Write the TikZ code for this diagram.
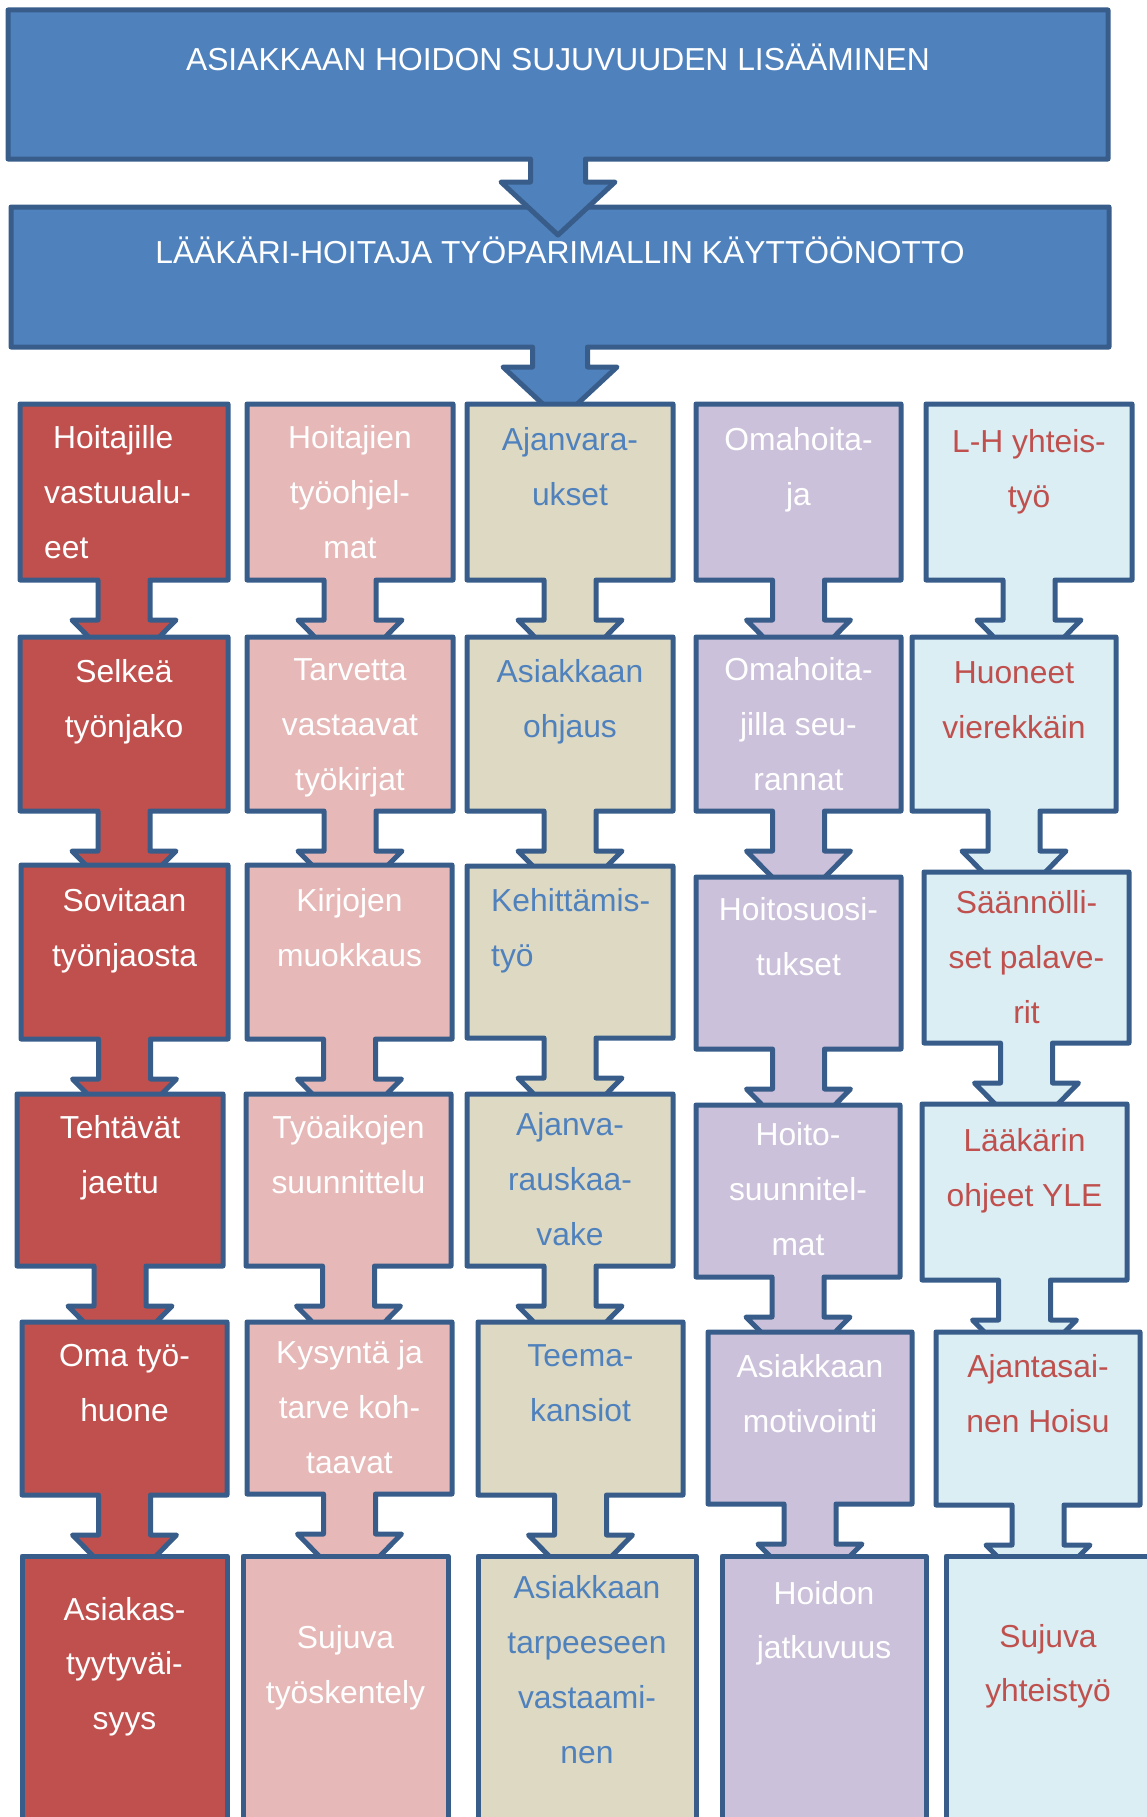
\documentclass[tikz,border=0pt]{standalone}
\usepackage{fontspec}
\setmainfont{Liberation Sans}

\definecolor{edgeblue}{HTML}{385D8A}
\definecolor{topblue}{HTML}{4F81BD}
\definecolor{brickred}{HTML}{C0504D}
\definecolor{rosepink}{HTML}{E6B9B8}
\definecolor{sandtan}{HTML}{DDD9C3}
\definecolor{lilac}{HTML}{CCC1DA}
\definecolor{paleaqua}{HTML}{DBEEF4}

% Box with a downward arrow hanging from its bottom edge.
% #1 x1  #2 y1  #3 x2  #4 y2  #5 fill  #6 stem half width
% #7 head half width  #8 stem length  #9 head length
\newcommand\calloutshape[9]{%
  \pgfmathsetmacro\coX{(#1+#3)/2}%
  \pgfmathsetmacro\coS{#4+#8}%
  \pgfmathsetmacro\coT{#4+#8+#9}%
  \draw[outline, fill=#5] (#1,#2) -- (#3,#2) -- (#3,#4)
    -- (\coX+#6,#4) -- (\coX+#6,\coS) -- (\coX+#7,\coS) -- (\coX,\coT)
    -- (\coX-#7,\coS) -- (\coX-#6,\coS) -- (\coX-#6,#4) -- (#1,#4) -- cycle;}
% Column box with the standard arrow
\newcommand\colbox[5]{\calloutshape{#1}{#2}{#3}{#4}{#5}{26}{52}{40}{53}}
% Final box of a column, running off the bottom edge
\newcommand\tailbox[5]{\draw[outline, fill=#5] (#1,#2) rectangle (#3,#4);}

% Text of a box: first baseline at the given point, lines centred
\newcommand\lbl[6][55]{\node[lbltext, text=#5] (#2) at (#3,#4)
  {\fontsize{31.8}{#1}\selectfont\begin{tabular}[t]{@{}c@{}}#6\end{tabular}};}
% Same, lines flush left
\newcommand\lbll[6][55]{\node[lbltext, anchor=base west, text=#5] (#2) at (#3,#4)
  {\fontsize{31.8}{#1}\selectfont\begin{tabular}[t]{@{}l@{}}#6\end{tabular}};}

\begin{document}
\begin{tikzpicture}[x=1pt, y=-1pt,
  outline/.style={draw=edgeblue, line width=5pt, line join=round},
  lbltext/.style={anchor=base, inner sep=0pt}]
\useasboundingbox (0,0) rectangle (1147,1817);
\clip (0,0) rectangle (1147,1817);

% ---- headline boxes ----
\calloutshape{11}{207}{1109}{347}{topblue}{27.5}{57}{20}{53}
\calloutshape{8}{10}{1108}{159}{topblue}{27.5}{57}{23}{53}
\lbl{goal}{558}{71}{white}{ASIAKKAAN HOIDON SUJUVUUDEN LISÄÄMINEN}
\lbl{model}{560}{263}{white}{LÄÄKÄRI-HOITAJA TYÖPARIMALLIN KÄYTTÖÖNOTTO}

% ---- column 1 ----
\colbox{20}{404}{228}{580}{brickred}
\colbox{20}{637}{228}{811}{brickred}
\colbox{21}{865}{228}{1039}{brickred}
\colbox{17}{1094}{223}{1266}{brickred}
\colbox{22}{1322}{227}{1495}{brickred}
\tailbox{22}{1556}{227}{1900}{brickred}
\lbll{c1r1}{44}{448}{white}{\hspace*{9pt}Hoitajille\\vastuualu-\\eet}
\lbl{c1r2}{124}{682}{white}{Selkeä\\työnjako}
\lbl{c1r3}{124.5}{911}{white}{Sovitaan\\työnjaosta}
\lbl{c1r4}{120}{1138}{white}{Tehtävät\\jaettu}
\lbl{c1r5}{124.5}{1366}{white}{Oma työ-\\huone}
\lbl[54.5]{c1r6}{124.5}{1620}{white}{Asiakas-\\tyytyväi-\\syys}

% ---- column 2 ----
\colbox{247}{404}{453}{580}{rosepink}
\colbox{247}{637}{453}{811}{rosepink}
\colbox{247}{865}{452}{1039}{rosepink}
\colbox{246}{1094}{451}{1266}{rosepink}
\colbox{247}{1322}{452}{1494}{rosepink}
\tailbox{243}{1556}{448}{1900}{rosepink}
\lbl{c2r1}{350}{448}{white}{Hoitajien\\työohjel-\\mat}
\lbl{c2r2}{350}{680}{white}{Tarvetta\\vastaavat\\työkirjat}
\lbl{c2r3}{349.5}{911}{white}{Kirjojen\\muokkaus}
\lbl{c2r4}{348.5}{1138}{white}{Työaikojen\\suunnittelu}
\lbl{c2r5}{349.5}{1363}{white}{Kysyntä ja\\tarve koh-\\taavat}
\lbl{c2r6}{345.5}{1648}{white}{Sujuva\\työskentely}

% ---- column 3 ----
\colbox{467}{404}{673}{580}{sandtan}
\colbox{467}{637}{673}{811}{sandtan}
\colbox{467}{866}{673}{1038}{sandtan}
\colbox{467}{1094}{673}{1266}{sandtan}
\colbox{478}{1322}{683}{1495}{sandtan}
\tailbox{478}{1556}{696}{1900}{sandtan}
\lbl{c3r1}{570}{450}{topblue}{Ajanvara-\\ukset}
\lbl{c3r2}{570}{682}{topblue}{Asiakkaan\\ohjaus}
\lbll{c3r3}{491}{911}{topblue}{Kehittämis-\\työ}
\lbl{c3r4}{570}{1135}{topblue}{Ajanva-\\rauskaa-\\vake}
\lbl{c3r5}{580.5}{1366}{topblue}{Teema-\\kansiot}
\lbl{c3r6}{587}{1598.5}{topblue}{Asiakkaan\\tarpeeseen\\vastaami-\\nen}

% ---- column 4 ----
\colbox{696}{404}{901}{580}{lilac}
\colbox{696}{637}{901}{811}{lilac}
\colbox{696}{877}{901}{1049}{lilac}
\colbox{696}{1105}{900}{1277}{lilac}
\colbox{708}{1332}{912}{1504}{lilac}
\tailbox{722}{1556}{926}{1900}{lilac}
\lbl{c4r1}{798.5}{450}{white}{Omahoita-\\ja}
\lbl{c4r2}{798.5}{680}{white}{Omahoita-\\jilla seu-\\rannat}
\lbl{c4r3}{798.5}{920}{white}{Hoitosuosi-\\tukset}
\lbl{c4r4}{798}{1145}{white}{Hoito-\\suunnitel-\\mat}
\lbl{c4r5}{810}{1377}{white}{Asiakkaan\\motivointi}
\lbl[54.5]{c4r6}{824}{1604}{white}{Hoidon\\jatkuvuus}

% ---- column 5 ----
\colbox{926}{404}{1132}{580}{paleaqua}
\colbox{912}{637}{1116}{811}{paleaqua}
\colbox{924}{872}{1129}{1043}{paleaqua}
\colbox{922}{1104}{1127}{1280}{paleaqua}
\colbox{936}{1332}{1140}{1505}{paleaqua}
\tailbox{946}{1556}{1150}{1900}{paleaqua}
\lbl{c5r1}{1029}{452}{brickred}{L-H yhteis-\\työ}
\lbl{c5r2}{1014}{683}{brickred}{Huoneet\\vierekkäin}
\lbl{c5r3}{1026.5}{913}{brickred}{Säännölli-\\set palave-\\rit}
\lbl{c5r4}{1024.5}{1151}{brickred}{Lääkärin\\ohjeet YLE}
\lbl{c5r5}{1038}{1377}{brickred}{Ajantasai-\\nen Hoisu}
\lbl[54.5]{c5r6}{1048}{1647}{brickred}{Sujuva\\yhteistyö}
\end{tikzpicture}
\end{document}
